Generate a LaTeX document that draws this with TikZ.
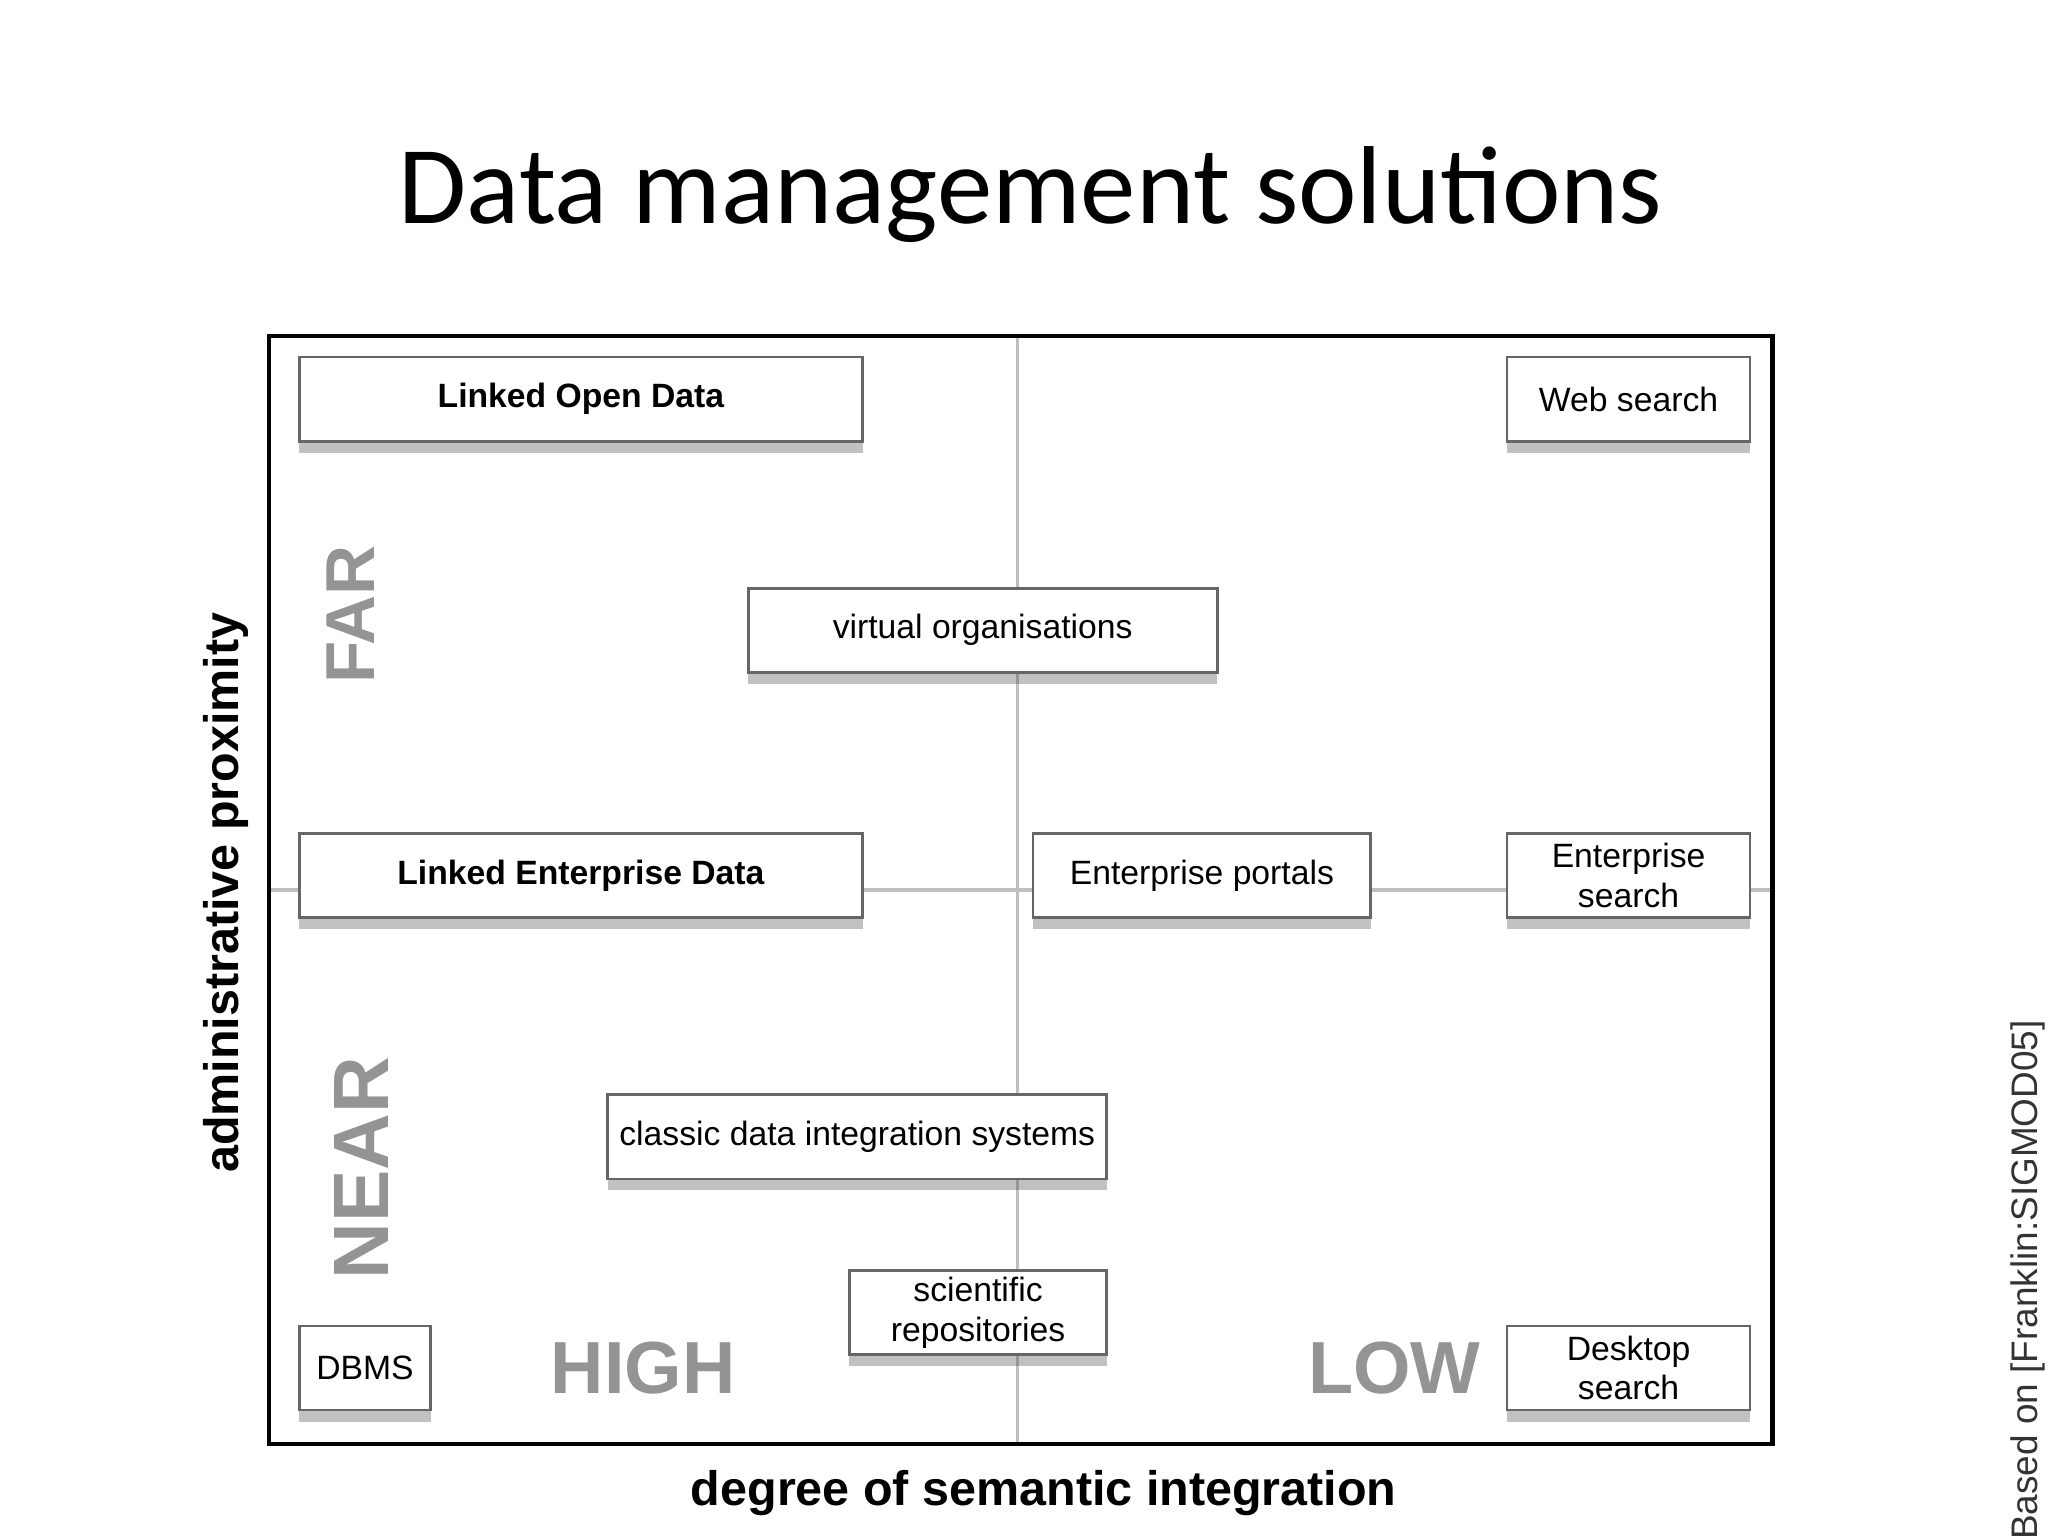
\documentclass[tikz,border=0pt]{standalone}
\usepackage{fontspec}
\setmainfont{Liberation Sans}
\newfontfamily\titlefont{Carlito}
\usetikzlibrary{shadows}
\begin{document}
\begin{tikzpicture}[x=0.01cm,y=-0.01cm,
  bx/.style={draw=black!60,fill=white,line width=0.6pt,minimum height=0.64cm,inner sep=1pt,align=center,font=\fontsize{7.3}{8.6}\selectfont,
    drop shadow={shadow xshift=0pt,shadow yshift=-2.5pt,opacity=0.35,fill=black!70}},
  big/.style={text=black!42,font=\bfseries\fontsize{15}{15}\selectfont},
  axl/.style={font=\bfseries\fontsize{10.5}{12}\selectfont}]
\useasboundingbox (0,0) rectangle (1560,1170);
\node (title) at (785,148) {\titlefont\fontsize{24}{28}\selectfont Data management solutions};
\coordinate (vt) at (775,256); \coordinate (vb) at (775,1100);
\coordinate (hl) at (205,678); \coordinate (hr) at (1350,678);
\draw[black!25,line width=0.8pt] (vt) -- (vb) (hl) -- (hr);
\draw[line width=1pt] (205,256) rectangle (1350,1100);
\node[bx,minimum width=4.29cm,font=\bfseries\fontsize{7.3}{8.6}\selectfont] (lod) at (442.5,304) {Linked Open Data};
\node[bx,minimum width=1.85cm] (web) at (1240.5,304) {Web search};
\node[bx,minimum width=3.57cm] (vo) at (748.5,480) {virtual organisations};
\node[bx,minimum width=4.29cm,font=\bfseries\fontsize{7.3}{8.6}\selectfont] (led) at (442.5,667) {Linked Enterprise Data};
\node[bx,minimum width=2.57cm] (ep) at (915.5,667) {Enterprise portals};
\node[bx,minimum width=1.85cm] (es) at (1240.5,667) {Enterprise\\search};
\node[bx,minimum width=3.8cm] (cd) at (653,866) {classic data integration systems};
\node[bx,minimum width=1.96cm] (sr) at (745,1000) {scientific\\repositories};
\node[bx,minimum width=1.0cm] (db) at (278,1042) {DBMS};
\node[bx,minimum width=1.85cm] (ds) at (1240.5,1042) {Desktop\\search};
\node[big,rotate=90] (far) at (267,468) {FAR};
\node[big,rotate=90,font=\bfseries\fontsize{17}{17}\selectfont] (near) at (275,890) {NEAR};
\node[big,font=\bfseries\fontsize{16}{16}\selectfont] (high) at (490,1042) {HIGH};
\node[big,font=\bfseries\fontsize{16}{16}\selectfont] (low) at (1062,1042) {LOW};
\node[axl,rotate=90] (ap) at (172,680) {administrative proximity};
\node[axl] (dsi) at (795,1137) {degree of semantic integration};
\node[rotate=90,font=\fontsize{8}{9}\selectfont,text=black!80] (based) at (1545,975) {Based on [Franklin:SIGMOD05]};
\end{tikzpicture}
\end{document}
